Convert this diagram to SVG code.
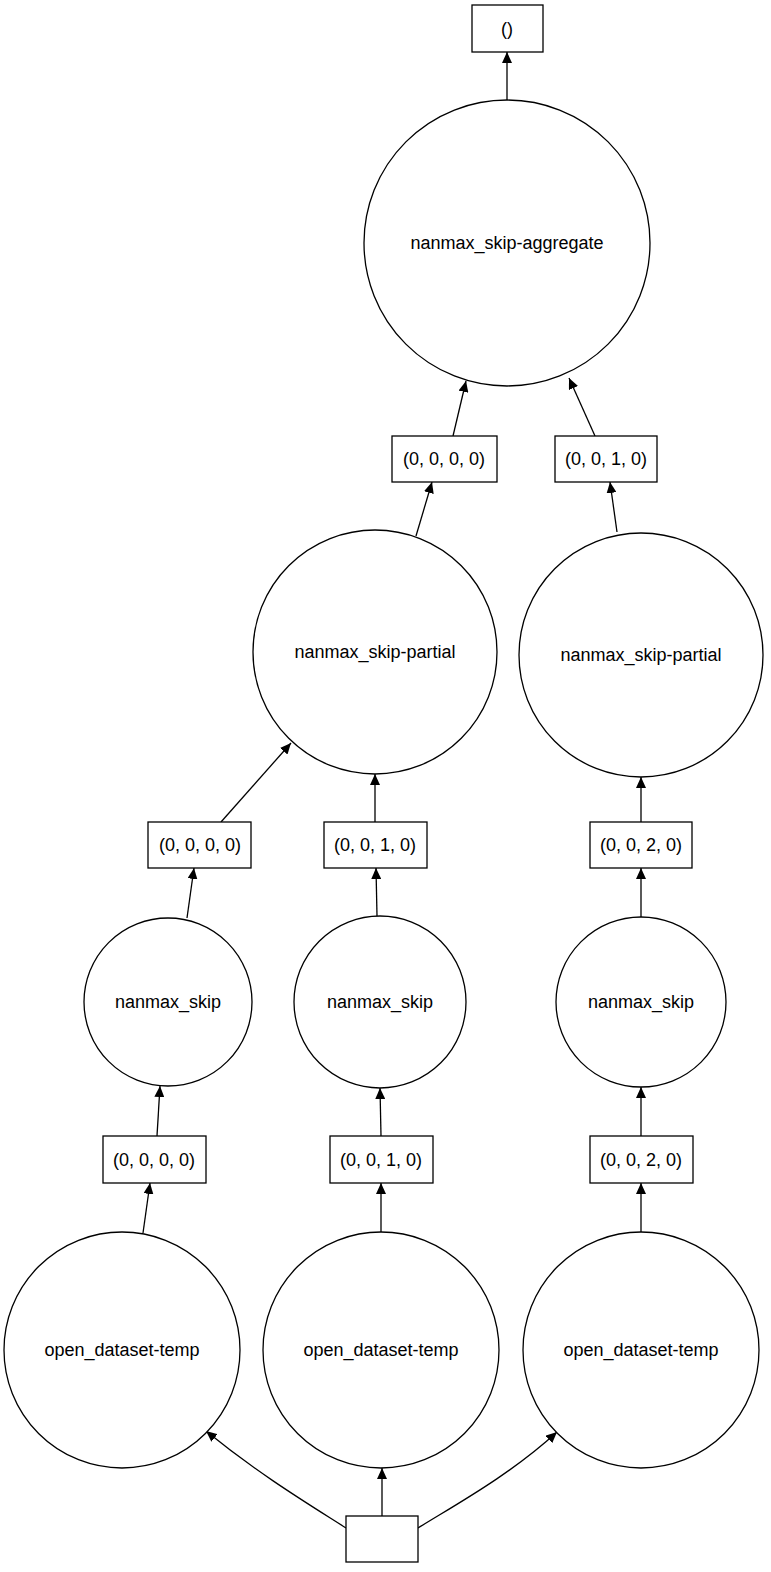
<svg xmlns="http://www.w3.org/2000/svg" width="771" height="1572" viewBox="0 0 771 1572">
<style>
.n{fill:#fff;stroke:#000;stroke-width:1.3}
.t{font-family:"Liberation Sans",Arial,sans-serif;font-size:18px;text-anchor:middle;dominant-baseline:central}
.e{fill:none;stroke:#000;stroke-width:1.3;marker-end:url(#a)}
</style>
<defs><marker id="a" markerUnits="userSpaceOnUse" markerWidth="11" markerHeight="10" refX="11" refY="5" orient="auto"><path d="M0,0 L11,5 L0,10 z" fill="#000"/></marker></defs>
<rect width="771" height="1572" fill="#fff"/>
<g id="edges">
<path class="e" d="M507,100 L507,52"/>
<path class="e" d="M453,436 L466,381"/>
<path class="e" d="M595,436 L569,378"/>
<path class="e" d="M416,536 L432,482"/>
<path class="e" d="M617,532 L610,482"/>
<path class="e" d="M221,822 L291,743"/>
<path class="e" d="M375,822 L375,774"/>
<path class="e" d="M641,822 L641,777"/>
<path class="e" d="M187,918 L194,868"/>
<path class="e" d="M377,916 L376,868"/>
<path class="e" d="M641,917 L641,868"/>
<path class="e" d="M157,1136 L160,1086"/>
<path class="e" d="M381,1136 L380,1088"/>
<path class="e" d="M641,1136 L641,1087"/>
<path class="e" d="M143,1233 L150,1183"/>
<path class="e" d="M381,1232 L381,1183"/>
<path class="e" d="M641,1232 L641,1183"/>
<path class="e" d="M346,1528 C310,1505 260,1475 206,1431"/>
<path class="e" d="M382,1516 L382,1468"/>
<path class="e" d="M418,1528 C455,1505 510,1475 557,1432"/>
</g>
<g id="root"><rect class="n" x="472" y="5" width="71" height="47"/><text class="t" x="507" y="29">()</text></g>
<g id="agg"><circle class="n" cx="507" cy="243" r="143"/><text class="t" x="507" y="243">nanmax_skip-aggregate</text></g>
<g id="pa0"><rect class="n" x="392" y="436" width="105" height="46"/><text class="t" x="444" y="459">(0, 0, 0, 0)</text></g>
<g id="pa1"><rect class="n" x="555" y="436" width="102" height="46"/><text class="t" x="606" y="459">(0, 0, 1, 0)</text></g>
<g id="partL"><circle class="n" cx="375" cy="652" r="122"/><text class="t" x="375" y="652">nanmax_skip-partial</text></g>
<g id="partR"><circle class="n" cx="641" cy="655" r="122"/><text class="t" x="641" y="655">nanmax_skip-partial</text></g>
<g id="s0"><rect class="n" x="148" y="822" width="103" height="46"/><text class="t" x="200" y="845">(0, 0, 0, 0)</text></g>
<g id="s1"><rect class="n" x="324" y="822" width="103" height="46"/><text class="t" x="375" y="845">(0, 0, 1, 0)</text></g>
<g id="s2"><rect class="n" x="590" y="822" width="102" height="46"/><text class="t" x="641" y="845">(0, 0, 2, 0)</text></g>
<g id="n0"><circle class="n" cx="168" cy="1002" r="84"/><text class="t" x="168" y="1002">nanmax_skip</text></g>
<g id="n1"><circle class="n" cx="380" cy="1002" r="86"/><text class="t" x="380" y="1002">nanmax_skip</text></g>
<g id="n2"><circle class="n" cx="641" cy="1002" r="85"/><text class="t" x="641" y="1002">nanmax_skip</text></g>
<g id="o0b"><rect class="n" x="103" y="1136" width="103" height="47"/><text class="t" x="154" y="1160">(0, 0, 0, 0)</text></g>
<g id="o1b"><rect class="n" x="330" y="1136" width="103" height="47"/><text class="t" x="381" y="1160">(0, 0, 1, 0)</text></g>
<g id="o2b"><rect class="n" x="590" y="1136" width="103" height="47"/><text class="t" x="641" y="1160">(0, 0, 2, 0)</text></g>
<g id="od0"><circle class="n" cx="122" cy="1350" r="118"/><text class="t" x="122" y="1350">open_dataset-temp</text></g>
<g id="od1"><circle class="n" cx="381" cy="1350" r="118"/><text class="t" x="381" y="1350">open_dataset-temp</text></g>
<g id="od2"><circle class="n" cx="641" cy="1350" r="118"/><text class="t" x="641" y="1350">open_dataset-temp</text></g>
<g id="src"><rect class="n" x="346" y="1516" width="72" height="46"/></g>
</svg>
